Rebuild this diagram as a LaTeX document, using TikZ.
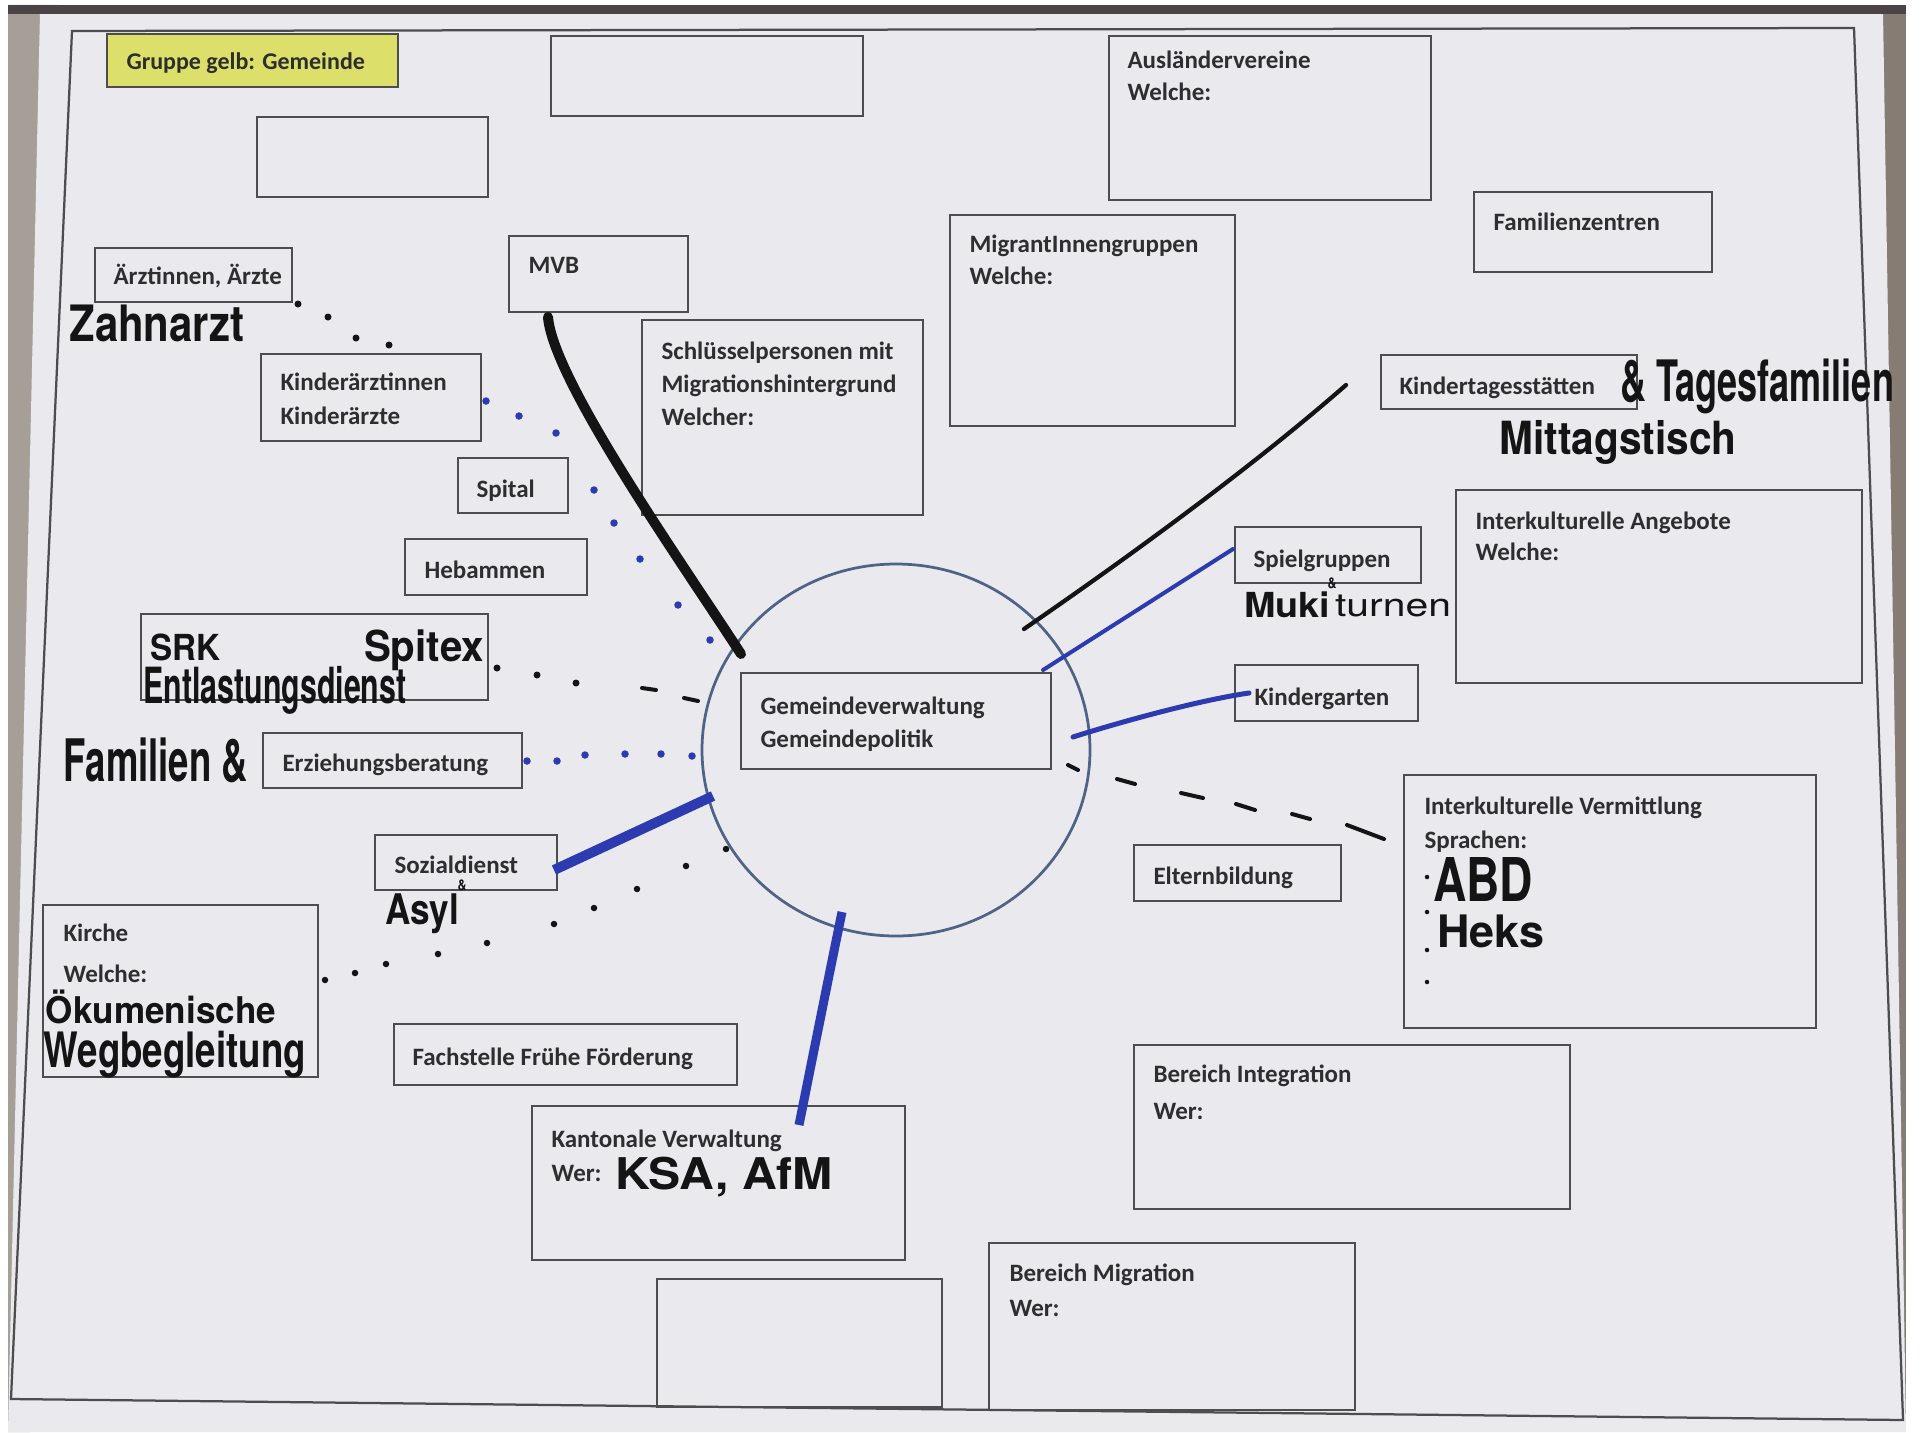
\documentclass[tikz,border=0pt]{standalone}
\usepackage{fontspec}
\setmainfont{Carlito}
\newfontfamily\handfont{TeX Gyre Heros}
\usepackage{graphicx}
\usetikzlibrary{fit,shapes.geometric}
\newlength\pxu \setlength\pxu{0.4pt}
\newcommand\hw[3]{\resizebox*{#1\pxu}{#2\pxu}{\handfont\bfseries #3}}
\newcommand\lblsize{\fontsize{10}{12}\selectfont\bfseries}
\definecolor{paper}{HTML}{E9E9EE}
\definecolor{lstrip}{HTML}{A69F98}
\definecolor{rstrip}{HTML}{867C74}
\definecolor{topband}{HTML}{4B4446}
\definecolor{boxc}{HTML}{4D4D4D}
\definecolor{txtc}{HTML}{2E2E2E}
\definecolor{ink}{HTML}{141414}
\definecolor{bluemk}{HTML}{2C3BB0}
\definecolor{circc}{HTML}{4F6386}
\definecolor{yelb}{HTML}{DCE06A}
\newcommand\bx[5]{\node[box, fit={(#2,#3) (#4,#5)}] (#1) {};}
\newcommand\lb[4]{\node[lbl] (#1) at (#2,#3) {#4};}
\begin{document}
\begin{tikzpicture}[x=0.4pt,y=-0.4pt,
  box/.style={draw=boxc, line width=0.8pt, inner sep=0pt, outer sep=0pt},
  lbl/.style={anchor=base west, inner sep=0pt, text=txtc, font=\lblsize},
  hnd/.style={inner sep=0pt, text=ink},
  bthick/.style={draw=ink, line width=4pt, line cap=round},
  bthin/.style={draw=ink, line width=1.7pt, line cap=round},
  bldash/.style={draw=ink, line width=1.6pt, line cap=round},
  blu/.style={draw=bluemk, line cap=round}]
\useasboundingbox (0,0) rectangle (1923,1432);
% photo background
\fill[white] (0,0) rectangle (1923,1432);
\fill[rstrip] (8,5) rectangle (1906,1432);
\fill[lstrip] (8,5) -- (60,5) -- (30,1432) -- (8,1432) -- cycle;
\fill[paper] (40,13) -- (1883,13) -- (1906,1432) -- (8,1432) -- cycle;
\fill[topband] (8,5) rectangle (1906,14);
% frame
\draw[boxc, line width=0.9pt] (72,31) -- (1854,28) -- (1903,1420) -- (11,1399) -- cycle;
% central circle
\node[draw=circc, line width=1.1pt, ellipse, inner sep=0pt, minimum width=155.2pt, minimum height=148.8pt] (rund) at (896,750) {};
% boxes
\node[box, fill=yelb, fit={(107,34) (398,87)}] (gruppe) {};
\lb{t-gruppe}{126}{70}{\fontsize{9.6}{11}\selectfont Gruppe gelb: Gemeinde}
\bx{leerA}{551}{36}{863}{116}
\bx{leerB}{257}{117}{488}{197}
\bx{auslaender}{1109}{36}{1431}{200}
\lb{t-aus1}{1127}{69}{Ausländervereine}
\lb{t-aus2}{1127}{101}{Welche:}
\bx{famz}{1474}{192}{1712}{272}
\lb{t-famz}{1493}{230}{Familienzentren}
\bx{migr}{950}{215}{1235}{426}
\lb{t-migr1}{969}{252}{MigrantInnengruppen}
\lb{t-migr2}{969}{284}{Welche:}
\bx{aerzte}{95}{248}{292}{302}
\lb{t-aerzte}{113}{284}{Ärztinnen, Ärzte}
\bx{mvb}{509}{236}{688}{312}
\lb{t-mvb}{528}{273}{MVB}
\bx{schl}{642}{320}{923}{515}
\lb{t-schl1}{661}{359}{Schlüsselpersonen mit}
\lb{t-schl2}{661}{392}{Migrationshintergrund}
\lb{t-schl3}{661}{425}{Welcher:}
\bx{kinder}{261}{354}{481}{441}
\lb{t-kind1}{280}{390}{Kinderärztinnen}
\lb{t-kind2}{280}{424}{Kinderärzte}
\bx{kita}{1381}{355}{1637}{409}
\lb{t-kita}{1399}{394}{Kindertagesstätten}
\bx{spital}{458}{458}{568}{513}
\lb{t-spital}{476}{497}{Spital}
\bx{angebote}{1456}{490}{1862}{683}
\lb{t-ang1}{1475}{529}{Interkulturelle Angebote}
\lb{t-ang2}{1475}{560}{Welche:}
\bx{hebammen}{405}{539}{587}{595}
\lb{t-heb}{424}{578}{Hebammen}
\bx{spielgr}{1235}{527}{1421}{583}
\lb{t-spiel}{1253}{567}{Spielgruppen}
\bx{srk}{141}{614}{488}{700}
\bx{gemeinde}{741}{673}{1051}{769}
\lb{t-gem1}{760}{714}{Gemeindeverwaltung}
\lb{t-gem2}{760}{747}{Gemeindepolitik}
\bx{kigarten}{1235}{665}{1418}{721}
\lb{t-kig}{1254}{705}{Kindergarten}
\bx{erzieh}{263}{733}{522}{788}
\lb{t-erz}{282}{771}{Erziehungsberatung}
\bx{vermittl}{1404}{775}{1816}{1028}
\lb{t-ver1}{1424}{814}{Interkulturelle Vermittlung}
\lb{t-ver2}{1424}{848}{Sprachen:}
\bx{eltern}{1134}{845}{1341}{901}
\lb{t-elt}{1153}{884}{Elternbildung}
\bx{sozial}{375}{835}{557}{890}
\lb{t-soz}{394}{873}{Sozialdienst}
\bx{kirche}{43}{905}{318}{1077}
\lb{t-kir1}{63}{941}{Kirche}
\lb{t-kir2}{63}{982}{Welche:}
\bx{fachst}{394}{1024}{737}{1085}
\lb{t-fach}{412}{1065}{Fachstelle Frühe Förderung}
\bx{integr}{1134}{1045}{1570}{1209}
\lb{t-int1}{1153}{1082}{Bereich Integration}
\lb{t-int2}{1153}{1119}{Wer:}
\bx{kanton}{532}{1106}{905}{1260}
\lb{t-kan1}{551}{1147}{Kantonale Verwaltung}
\lb{t-kan2}{551}{1181}{Wer:}
\bx{migration}{989}{1243}{1355}{1410}
\lb{t-mig1}{1009}{1281}{Bereich Migration}
\lb{t-mig2}{1009}{1316}{Wer:}
\bx{leerC}{657}{1279}{942}{1407}
% handwritten notes
\node[hnd] (h-zahn) at (157,323) {\hw{175}{37}{Zahnarzt}};
\node[hnd] (h-srk) at (185,647) {\hw{70}{27}{SRK}};
\node[hnd] (h-spitex) at (424,650) {\hw{120}{41}{Spitex}};
\node[hnd] (h-entl) at (275,690) {\hw{263}{48}{Entlastungsdienst}};
\node[hnd] (h-fam) at (156,760) {\hw{184}{45}{Familien \&}};
\node[hnd] (h-asyl) at (422,914) {\hw{74}{40}{Asyl}};
\node[hnd] (h-asylu) at (462,885) {\hw{9}{11}{\&}};
\node[hnd] (h-oek) at (161,1007) {\hw{230}{34}{Ökumenische}};
\node[hnd] (h-weg) at (175,1055) {\hw{262}{47}{Wegbegleitung}};
\node[hnd] (h-ksa) at (724,1177) {\hw{218}{40}{KSA, AfM}};
\node[hnd] (h-tages) at (1757,386) {\hw{274}{55}{\& Tagesfamilien}};
\node[hnd] (h-mittag) at (1618,442) {\hw{237}{44}{Mittagstisch}};
\node[hnd] (h-muki) at (1287,605) {\hw{86}{26}{Muki}};
\node[hnd] (h-turnen) at (1393,606) {\hw{116}{22}{\mdseries turnen}};
\node[hnd] (h-mukiu) at (1332,583) {\hw{9}{11}{\&}};
\node[hnd] (h-abd) at (1483,879) {\hw{100}{44}{ABD}};
\node[hnd] (h-heks) at (1491,931) {\hw{107}{33}{Heks}};
\foreach \yy in {877,912,950,982} \fill[ink] (1427,\yy) circle[radius=0.9pt];
% marker connectors
\coordinate (mvbS) at (548,317);
\coordinate (rundNW) at (741,654);
\draw[bthick] (mvbS) .. controls (553,380) and (680,560) .. (rundNW);
\coordinate (kitaE) at (1346,385);
\coordinate (rundNE) at (1024,629);
\draw[bthin] (kitaE) .. controls (1267,454) and (1159,536) .. (rundNE);
\coordinate (spielE) at (1233,549);
\coordinate (rundE1) at (1043,670);
\draw[blu, line width=1.6pt] (spielE) -- (rundE1);
\coordinate (kigE) at (1249,693);
\coordinate (rundE2) at (1073,737);
\draw[blu, line width=2pt] (rundE2) .. controls (1120,722) and (1200,700) .. (kigE);
\coordinate (sozE) at (554,870);
\coordinate (rundW) at (713,796);
\draw[blu, line width=4pt, line cap=butt] (sozE) -- (rundW);
\coordinate (kanE) at (799,1125);
\coordinate (rundS) at (842,912);
\draw[blu, line width=3.6pt, line cap=butt] (kanE) .. controls (812,1060) and (828,980) .. (rundS);
% dotted / dashed hand connections
\foreach \p in {(298,304),(328,317),(356,338),(389,345)} \fill[ink] \p circle[radius=1.4pt];
\foreach \p in {(497,668),(537,675),(576,683)} \fill[ink] \p circle[radius=1.4pt];
\draw[bldash] (642,688) -- (656,690);
\draw[bldash] (684,698) -- (698,701);
\foreach \p in {(325,980),(355,973),(386,964),(438,954),(487,943),(554,924),(594,908),(637,889),(686,866),(726,849)} \fill[ink] \p circle[radius=1.3pt];
\foreach \p in {(486,401),(519,416),(556,433),(594,490),(614,523),(640,559),(678,605),(710,640)} \fill[bluemk] \p circle[radius=1.5pt];
\foreach \p in {(527,761),(557,761),(585,755),(625,754),(661,754),(692,756)} \fill[bluemk] \p circle[radius=1.5pt];
\draw[bldash] (1068,765) -- (1078,770);
\draw[bldash] (1117,779) -- (1135,784);
\draw[bldash] (1181,793) -- (1203,798);
\draw[bldash] (1236,804) -- (1255,810);
\draw[bldash] (1292,814) -- (1310,819);
\draw[bldash] (1347,825) -- (1384,839);
\end{tikzpicture}
\end{document}
